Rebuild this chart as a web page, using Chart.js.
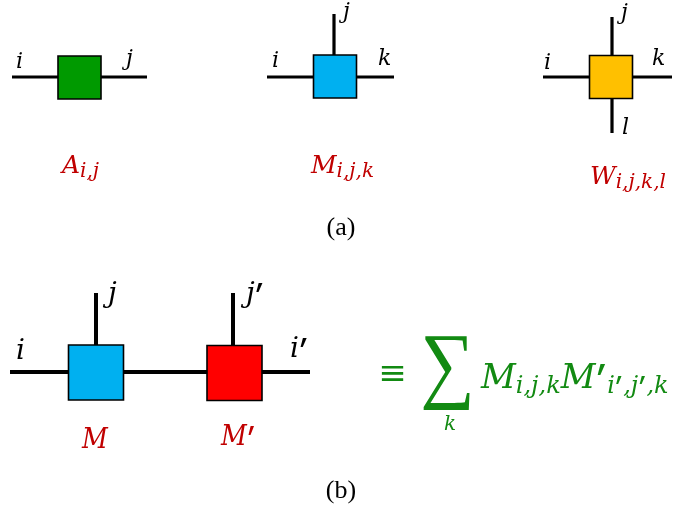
<!DOCTYPE html>
<html><head><meta charset="utf-8">
<script src="https://cdn.jsdelivr.net/npm/chart.js@4/dist/chart.umd.min.js"></script>
<style>html,body{margin:0;padding:0;background:#fff;}canvas{display:block}</style>
</head><body>
<canvas id="c" width="673" height="505"></canvas>
<script>
// ---- diagram data (in a 673 x 505 value space, y downward) ----
// tensor nodes
const nodeNames  = ['A', 'M', 'W', 'M', 'M′'];
const nodeX      = [79.5, 335, 611, 96, 234.5];
const nodeY      = [77.5, 76.5, 77, 372.5, 373];
const nodeColors = ['#009A00', '#00B0F0', '#FFC000', '#00B0F0', '#FF0000'];
// legs (edges): start and end points
const legX1 = [12, 267, 334, 543, 612, 10, 96, 233];
const legY1 = [77, 77, 14, 77, 17, 372, 293, 293];
const legX2 = [147, 394, 334, 672, 612, 310, 96, 233];
const legY2 = [77, 77, 77, 77, 133, 372, 372, 372];
const legPanel = ['a','a','a','a','a','b','b','b'];
// index labels
const idxText = ['i','j','i','j','k','i','j','k','l','j','j′','i','i′'];
const idxX    = [16, 126, 272, 343, 378, 544, 621, 652, 622, 108, 246, 16, 290];
const idxY    = [68, 65, 67, 18, 65, 69, 19, 65, 134, 302, 302, 359, 357];
const idxPanel= ['a','a','a','a','a','a','a','a','a','b','b','b','b'];
// tensor-name labels with subscripts
const nameMain = ['A', 'M', 'W', 'M', 'M′'];
const nameSub  = ['i,j', 'i,j,k', 'i,j,k,l', '', ''];
const nameX    = [62, 311, 590, 82, 221];
const nameY    = [173, 173, 184, 448, 445];
const namePanel= ['a','a','a','b','b'];
// contraction formula
const sumIndex = 'k';
const formulaTerms = [['M','i,j,k'], ['M′','i′,j′,k']];
const captions = ['(a)', '(b)'];
const captionY = [235, 498];

// ---- build datasets ----
const datasets = [];
for (let i = 0; i < legX1.length; i++) {
  datasets.push({
    type: 'scatter', showLine: true, order: 2,
    data: [{x: legX1[i], y: legY1[i]}, {x: legX2[i], y: legY2[i]}],
    borderColor: '#000', borderWidth: legPanel[i] === 'a' ? 3.2 : 4,
    pointRadius: 0, borderCapStyle: 'butt'
  });
}
const nodeSide = [43, 43, 43, 55, 55];
for (let i = 0; i < nodeX.length; i++) {
  datasets.push({
    type: 'scatter', order: 1, label: nodeNames[i],
    data: [{x: nodeX[i], y: nodeY[i]}],
    pointStyle: 'rect', pointRadius: nodeSide[i] / Math.SQRT2,
    pointHoverRadius: nodeSide[i] / Math.SQRT2,
    backgroundColor: nodeColors[i], borderColor: '#000', borderWidth: 1.6
  });
}

const MATH = '"DejaVu Serif"';
// split text into segments, rendering primes as tall slanted strokes
function rich(text, size, dy, sx) {
  const out = [];
  let buf = '';
  for (const ch of text) {
    if (ch === '′') {
      if (buf) { out.push({t: buf, f: `italic ${size}px ${MATH}`, dy, sx}); buf = ''; }
      out.push({t: '′', f: `bold ${size}px "DejaVu Sans"`, dy, sx, sy: 1.8, cap: 0.75 * size, pad: 0.08 * size});
    } else buf += ch;
  }
  if (buf) out.push({t: buf, f: `italic ${size}px ${MATH}`, dy, sx});
  return out;
}
function drawSegs(ctx, x, y, segs, color, align) {
  ctx.save();
  ctx.fillStyle = color;
  ctx.textBaseline = 'alphabetic';
  ctx.textAlign = 'left';
  let w = 0;
  segs.forEach(s => { ctx.font = s.f; s.w = ctx.measureText(s.t).width * (s.sx || 1) + (s.pad || 0); w += s.w; });
  let cx = align === 'center' ? x - w / 2 : x;
  segs.forEach(s => {
    ctx.font = s.f;
    ctx.save();
    const cap = s.cap || 0;
    ctx.translate(cx + (s.pad || 0) / 2, y + (s.dy || 0) - cap);
    ctx.scale(s.sx || 1, s.sy || 1);
    ctx.fillText(s.t, 0, cap);
    ctx.restore();
    cx += s.w;
  });
  ctx.restore();
  return cx;
}

const textPlugin = {
  id: 'texts',
  afterDatasetsDraw(chart) {
    const ctx = chart.ctx, xs = chart.scales.x, ys = chart.scales.y;
    const px = v => xs.getPixelForValue(v), py = v => ys.getPixelForValue(v);
    // index labels
    for (let i = 0; i < idxText.length; i++) {
      const sz = idxPanel[i] === 'a' ? 22 : 28;
      drawSegs(ctx, px(idxX[i]), py(idxY[i]), rich(idxText[i], sz, 0), '#000');
    }
    // names
    for (let i = 0; i < nameMain.length; i++) {
      const a = namePanel[i] === 'a';
      let segs = rich(nameMain[i], a ? 25 : 28, 0, a ? 1 : 0.9);
      if (nameSub[i]) segs = segs.concat(rich(nameSub[i], 20, 4));
      drawSegs(ctx, px(nameX[i]), py(nameY[i]), segs, '#C00000');
    }
    // formula
    const G = '#128A12';
    drawSegs(ctx, px(392.5), py(384), [{t: '≡', f: `34px "DejaVu Serif"`}], G, 'center');
    drawSegs(ctx, px(447.5), py(392), [{t: '∑', f: `85px "Liberation Serif"`, sx: 0.9}], G, 'center');
    drawSegs(ctx, px(450), py(430), rich(sumIndex, 20, 0), G, 'center');
    let fx = px(481);
    formulaTerms.forEach(tm => {
      fx = drawSegs(ctx, fx, py(388), rich(tm[0], 34, 0).concat(rich(tm[1], 24, 5)), G);
    });
    // captions
    captions.forEach((c, i) => drawSegs(ctx, px(341), py(captionY[i]), [{t: c, f: `26px "Liberation Serif"`}], '#000', 'center'));
  }
};

new Chart(document.getElementById('c'), {
  type: 'scatter',
  data: { datasets },
  options: {
    responsive: false, animation: false,
    layout: { padding: 0, autoPadding: false },
    plugins: { legend: { display: false }, tooltip: { enabled: false } },
    events: [],
    scales: {
      x: { type: 'linear', min: 0, max: 673, display: false },
      y: { type: 'linear', min: 0, max: 505, reverse: true, display: false }
    }
  },
  plugins: [textPlugin]
});
</script>
</body></html>
